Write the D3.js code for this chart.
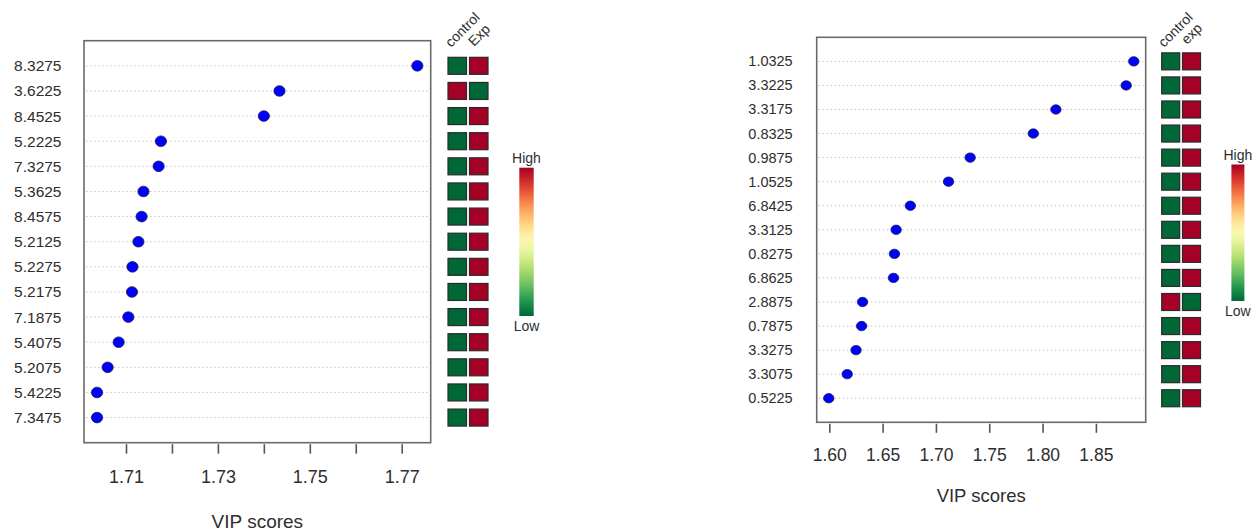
<!DOCTYPE html>
<html>
<head>
<meta charset="utf-8">
<script src="https://cdn.jsdelivr.net/npm/d3@7"></script>
<style>
  html, body { margin: 0; padding: 0; background: #fff; }
  svg { display: block; font-family: "Liberation Sans", Arial, sans-serif; }
</style>
</head>
<body>
<svg id="chart" width="1256" height="531"></svg>
<script>
// ---------- Data ----------
const leftLabels = ["8.3275","3.6225","8.4525","5.2225","7.3275","5.3625","8.4575","5.2125","5.2275","5.2175","7.1875","5.4075","5.2075","5.4225","7.3475"];
const leftVIP    = [1.7734, 1.7434, 1.7400, 1.7176, 1.7171, 1.7138, 1.7134, 1.7127, 1.7114, 1.7113, 1.7105, 1.7084, 1.7060, 1.7037, 1.7037];
const leftControl = [0, 1, 0, 0, 0, 0, 0, 0, 0, 0, 0, 0, 0, 0, 0];   // 0 = low, 1 = high
const leftExp     = [1, 0, 1, 1, 1, 1, 1, 1, 1, 1, 1, 1, 1, 1, 1];
const leftGroups  = ["control", "Exp"];
const leftTicks   = [1.71, 1.72, 1.73, 1.74, 1.75, 1.76, 1.77];
const leftTickLabels = ["1.71", "", "1.73", "", "1.75", "", "1.77"];

const rightLabels = ["1.0325","3.3225","3.3175","0.8325","0.9875","1.0525","6.8425","3.3125","0.8275","6.8625","2.8875","0.7875","3.3275","3.3075","0.5225"];
const rightVIP    = [1.8855, 1.8784, 1.8125, 1.7913, 1.7321, 1.7118, 1.6760, 1.6627, 1.6611, 1.6602, 1.6312, 1.6303, 1.6251, 1.6168, 1.5995];
const rightControl = [0, 0, 0, 0, 0, 0, 0, 0, 0, 0, 1, 0, 0, 0, 0];
const rightExp     = [1, 1, 1, 1, 1, 1, 1, 1, 1, 1, 0, 1, 1, 1, 1];
const rightGroups  = ["control", "exp"];
const rightTicks   = [1.60, 1.65, 1.70, 1.75, 1.80, 1.85];
const rightTickLabels = ["1.60", "1.65", "1.70", "1.75", "1.80", "1.85"];

const xTitle = "VIP scores";
const legendHigh = "High";
const legendLow = "Low";

// ---------- Drawing ----------
const svg = d3.select("#chart");
const textColor = "#2e2e2e";
const heatColor = d3.scaleSequential(t => d3.interpolateRdYlGn(1 - t)).domain([0, 1]);

// gradient for legend
const defs = svg.append("defs");
const grad = defs.append("linearGradient").attr("id", "legGrad")
  .attr("x1", 0).attr("y1", 0).attr("x2", 0).attr("y2", 1);
d3.range(0, 1.0001, 0.05).forEach(o => {
  grad.append("stop").attr("offset", o).attr("stop-color", d3.interpolateRdYlGn(o));
});

function drawPanel(cfg) {
  const g = svg.append("g");
  const x = d3.scaleLinear().domain(cfg.xDomain).range([cfg.left, cfg.right]);
  const y = d3.scaleLinear().domain([0, cfg.labels.length + 1]).range([cfg.top, cfg.bottom]);
  const rows = cfg.labels.map((lab, i) => ({ lab, v: cfg.vip[i], c: cfg.control[i], e: cfg.exp[i], pos: i + 1 }));

  // dotted guide lines
  g.selectAll("line.guide").data(rows).enter().append("line")
    .attr("x1", cfg.left + 2).attr("x2", cfg.right - 2)
    .attr("y1", d => y(d.pos)).attr("y2", d => y(d.pos))
    .attr("stroke", "#c4c4c4").attr("stroke-width", 1).attr("stroke-dasharray", "1.5,2.5");

  // box
  g.append("rect")
    .attr("x", cfg.left).attr("y", cfg.top)
    .attr("width", cfg.right - cfg.left).attr("height", cfg.bottom - cfg.top)
    .attr("fill", "none").attr("stroke", "#6a6a6a").attr("stroke-width", 1.6);

  // points
  g.selectAll("ellipse.pt").data(rows).enter().append("ellipse")
    .attr("cx", d => x(d.v)).attr("cy", d => y(d.pos))
    .attr("rx", cfg.rx).attr("ry", cfg.ry)
    .attr("fill", "#0000ff").attr("stroke", "#1a1a4a").attr("stroke-width", 0.8);

  // row labels
  g.selectAll("text.rl").data(rows).enter().append("text")
    .attr("x", cfg.labelX).attr("y", d => y(d.pos))
    .attr("text-anchor", "end").attr("dominant-baseline", "central")
    .attr("font-size", cfg.labelSize).attr("fill", textColor)
    .text(d => d.lab);

  // x axis
  const axis = d3.axisBottom(x).tickValues(cfg.ticks)
    .tickFormat((d, i) => cfg.tickLabels[i]).tickSize(cfg.tickLen).tickPadding(cfg.tickPad);
  const ag = g.append("g").attr("transform", `translate(0,${cfg.bottom + 1.5})`).call(axis);
  ag.select(".domain").remove();
  ag.selectAll(".tick line").attr("stroke", "#555").attr("stroke-width", 1.6);
  ag.selectAll(".tick text").attr("font-size", cfg.tickSize).attr("fill", textColor)
    .attr("font-family", "Liberation Sans, Arial, sans-serif");

  // x title
  g.append("text").attr("x", (cfg.left + cfg.right) / 2).attr("y", cfg.titleY)
    .attr("text-anchor", "middle").attr("font-size", cfg.titleSize).attr("fill", textColor)
    .text(xTitle);

  // heatmap cells
  const cellKeys = ["c", "e"];
  cellKeys.forEach((k, j) => {
    g.selectAll("rect.cell" + k).data(rows).enter().append("rect")
      .attr("x", cfg.cellX[j]).attr("y", d => y(d.pos) - cfg.cellH / 2)
      .attr("width", cfg.cellW).attr("height", cfg.cellH)
      .attr("fill", d => heatColor(d[k]))
      .attr("stroke", "#2b2b2b").attr("stroke-width", 1.2);
  });

  // column labels
  cfg.groups.forEach((name, j) => {
    g.append("text")
      .attr("transform", `translate(${cfg.colLabelPos[j][0]},${cfg.colLabelPos[j][1]}) rotate(-45)`)
      .attr("font-size", 14).attr("fill", textColor)
      .text(name);
  });

  // legend
  const L = cfg.legend;
  g.append("rect").attr("x", L.x).attr("y", L.top).attr("width", L.w).attr("height", L.bottom - L.top)
    .attr("fill", "url(#legGrad)");
  g.append("text").attr("x", L.x + L.w / 2).attr("y", L.top - 5)
    .attr("text-anchor", "middle").attr("font-size", 14).attr("fill", textColor).text(legendHigh);
  g.append("text").attr("x", L.x + L.w / 2).attr("y", L.bottom + 15)
    .attr("text-anchor", "middle").attr("font-size", 14).attr("fill", textColor).text(legendLow);
}

drawPanel({
  labels: leftLabels, vip: leftVIP, control: leftControl, exp: leftExp, groups: leftGroups,
  ticks: leftTicks, tickLabels: leftTickLabels,
  xDomain: [1.70086, 1.77631],
  left: 84, right: 430.7, top: 40.7, bottom: 442.7,
  rx: 5.6, ry: 5.3,
  labelX: 61.5, labelSize: 15.5,
  tickLen: 9.5, tickPad: 17, tickSize: 18,
  titleY: 527.5, titleSize: 19,
  cellX: [448, 469.5], cellW: 18.5, cellH: 17,
  colLabelPos: [[451, 48], [474, 47]],
  legend: { x: 519.3, w: 14.4, top: 167.7, bottom: 316 }
});

drawPanel({
  labels: rightLabels, vip: rightVIP, control: rightControl, exp: rightExp, groups: rightGroups,
  ticks: rightTicks, tickLabels: rightTickLabels,
  xDomain: [1.5882, 1.8967],
  left: 816.7, right: 1145.7, top: 37.3, bottom: 422.3,
  rx: 5.2, ry: 4.7,
  labelX: 792.7, labelSize: 14.5,
  tickLen: 9, tickPad: 16, tickSize: 17.5,
  titleY: 502.3, titleSize: 18.5,
  cellX: [1161.7, 1182.5], cellW: 18, cellH: 17,
  colLabelPos: [[1164, 48], [1187, 45]],
  legend: { x: 1231.4, w: 13, top: 164.5, bottom: 301 }
});
</script>
</body>
</html>
